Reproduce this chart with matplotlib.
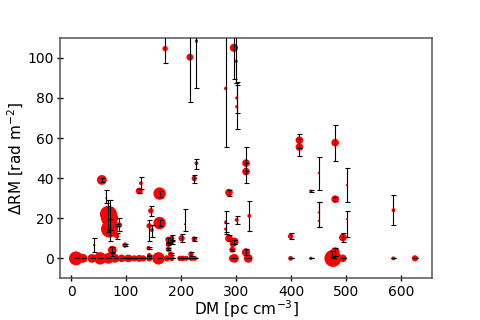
import matplotlib
matplotlib.use("Agg")
import matplotlib.pyplot as plt
import numpy as np

# DM [pc cm^-3]
dm = [171, 216, 228, 281, 296, 300, 301, 301,
      415, 415, 436, 450, 450, 450, 480, 480, 476, 480, 474,
      501, 501, 494, 494, 586, 586, 625, 399, 399, 436,
      322, 318, 324, 318, 318, 301, 287, 281, 281, 287, 297, 294, 293, 297, 294,
      228, 224, 207, 201, 224, 218, 201, 210, 219, 225,
      127, 124, 161, 145, 161, 142, 147, 177, 183, 183, 177, 177, 181, 141, 142, 98,
      101, 107, 115, 124, 131, 142, 159, 174, 183, 198, 204,
      56, 64, 68, 70, 70, 88, 84, 83, 42, 75, 74,
      9, 22, 38, 53, 68, 80, 92, 104]
# Delta RM [rad m^-2]
drm = [104.6, 100.3, 108.3, 84.7, 105.0, 98.3, 80.0, 75.6,
       58.9, 55.5, 33.5, 42.5, 22.9, 18.7, 57.7, 29.5, 0.0, 3.3, 2.0,
       36.5, 19.6, 10.4, 0.0, 24.0, 0.0, 0.0, 0.0, 11.0, 0.0,
       0.0, 3.0, 21.2, 47.5, 43.3, 19.2, 32.8, 18.2, 14.6, 10.0, 8.3, 7.1, 4.3, 0.0, 0.0,
       47.4, 39.8, 17.0, 10.0, 9.6, 2.1, 0.0, 0.0, 0.0, 0.0,
       37.5, 33.6, 32.3, 23.7, 17.6, 16.2, 14.1, 9.3, 10.0, 8.3, 7.1, 4.6, 2.1, 5.1, 1.6, 6.6,
       0, 0, 0, 0, 0, 0, 0, 0, 0, 0, 0,
       39.1, 30.0, 22.0, 20.0, 14.6, 16.6, 16.6, 11.3, 6.6, 4.1, 2.0,
       0, 0, 0, 0, 0, 0, 0, 0]
# lower / upper errors
err_lo = [7, 22.5, 23.3, 29.3, 15.8, 10.8, 7.5, 11.3,
          4, 4.5, 0.5, 8.4, 7.5, 3.3, 9, 1, 0, 2, 1.5,
          8.4, 8.9, 2, 0, 7.4, 0, 0, 0, 1.5, 0,
          0, 1.5, 7.5, 4, 5.5, 2, 1.5, 5, 2.6, 1.5, 1, 0, 0.5, 0, 0,
          2.6, 2, 3.3, 2, 1, 1, 0, 0, 0, 0,
          2.7, 1, 1.5, 2.5, 1.5, 7.5, 3.6, 1, 1.5, 1, 0.5, 0.5, 0.5, 0.5, 0.3, 0.5,
          0, 0, 0, 0, 0, 0, 0, 0, 0, 0, 0,
          1, 2.5, 9, 6, 5.8, 3, 0.5, 1.5, 3.6, 1.5, 1,
          0, 0, 0, 0, 0, 0, 0, 0]
err_hi = [10, 15, 10, 30, 10, 15, 8, 11,
          3.3, 4, 0.5, 8.2, 5, 9.2, 9, 1, 0, 2, 1.5,
          8.4, 3.8, 2, 0, 7.5, 0, 0, 0, 1.5, 0,
          0, 1.5, 7.5, 8, 4, 2, 1.5, 5.2, 3, 1.5, 1, 0, 0.5, 0, 0,
          2.3, 2, 7.5, 2, 1, 1, 0, 0, 0, 0,
          3.3, 1, 1.5, 2.6, 1.5, 2.9, 2.5, 1, 1.5, 1, 0.5, 0.5, 0.5, 0.5, 0.3, 0.5,
          0, 0, 0, 0, 0, 0, 0, 0, 0, 0, 0,
          1, 4.1, 7, 9, 5, 3.3, 0.5, 1.5, 3.4, 1.5, 1,
          0, 0, 0, 0, 0, 0, 0, 0]
# marker weights
weight = [15, 25, 6, 6, 35, 6, 5, 5,
          30, 30, 5, 2, 2, 2, 30, 30, 150, 40, 15,
          2, 2, 30, 30, 8, 8, 20, 12, 15, 6,
          40, 35, 8, 30, 30, 8, 30, 5, 5, 30, 35, 20, 18, 40, 30,
          8, 15, 2, 20, 15, 15, 12, 12, 15, 12,
          8, 25, 80, 15, 80, 15, 8, 20, 15, 15, 15, 15, 15, 10, 10, 15,
          20, 20, 20, 25, 20, 20, 80, 20, 15, 15, 15,
          50, 2, 150, 150, 150, 15, 15, 15, 3, 40, 20,
          100, 40, 40, 80, 60, 40, 30, 30]

xticks = [0, 100, 200, 300, 400, 500, 600]
yticks = [0, 20, 40, 60, 80, 100]

fig = plt.figure(figsize=(4.8, 3.2), dpi=100)
ax = fig.add_axes([0.125, 0.13, 0.775, 0.752])

ax.scatter(dm, drm, s=weight, color='red', edgecolors='none', zorder=2)
ax.errorbar(dm, drm, yerr=[err_lo, err_hi], fmt='none', ecolor='black',
            elinewidth=0.8, capsize=1.8, capthick=0.8, zorder=3)

ax.set_xlim(-20, 656)
ax.set_ylim(-10, 110)
ax.set_xticks(xticks)
ax.set_yticks(yticks)
ax.tick_params(direction='inout', length=5, width=1, labelsize=10, pad=2)
for sp in ax.spines.values():
    sp.set_color('#555555')
    sp.set_linewidth(1.1)
ax.set_xlabel('DM [pc cm$^{-3}$]', fontsize=11, labelpad=0)
ax.set_ylabel('ΔRM [rad m$^{-2}$]', fontsize=11, labelpad=1)

fig.savefig('out.png', dpi=100)
